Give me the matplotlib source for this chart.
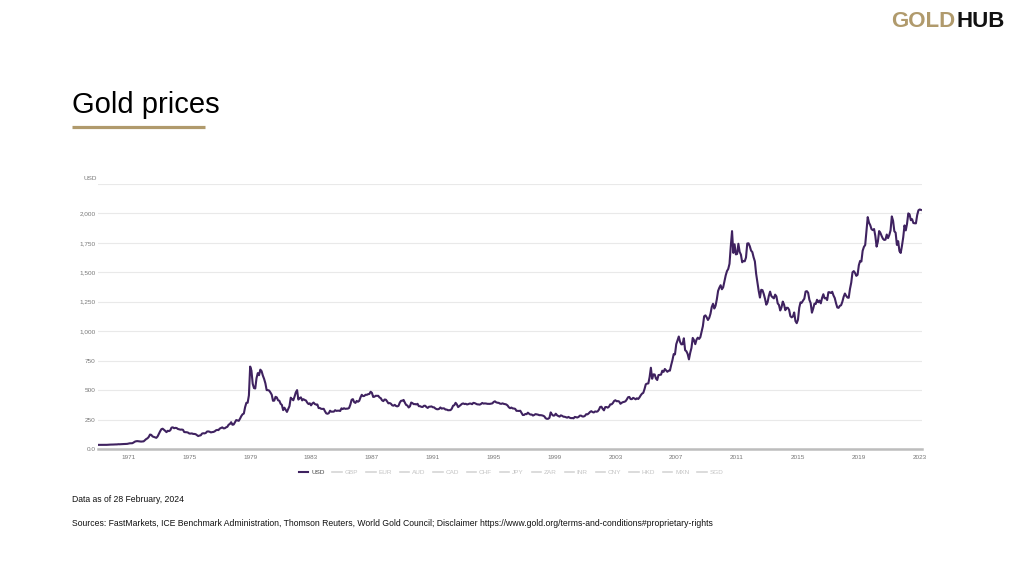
import numpy as np
import matplotlib
matplotlib.use("Agg")
import matplotlib.pyplot as plt
from matplotlib.lines import Line2D

plt.rcParams['font.family'] = ['Liberation Sans', 'DejaVu Sans']

# monthly gold price, USD/oz, Jan 1970 .. Feb 2024
start_year = 1970
usd = [
    35, 35, 35.1, 35.6, 35.9, 35.4, 35.3, 35.4, 36.2, 37.5, 37.4, 37.4,            # 1970
    37.9, 38.7, 38.9, 39.0, 40.5, 40.1, 41.0, 42.7, 42.0, 42.5, 42.9, 43.5,        # 1971
    45.8, 48.3, 48.3, 49.0, 54.6, 62.1, 65.7, 67.0, 65.5, 64.9, 62.9, 63.9,        # 1972
    65.1, 74.2, 84.4, 90.5, 102, 122.5, 120.2, 106.8, 103, 100.1, 94.8, 106.7,     # 1973
    129, 150.2, 168.4, 172.2, 163.3, 154.1, 143, 154.6, 151.8, 158.8, 181.7, 183.9,  # 1974
    176.3, 179.6, 178, 170, 167.2, 164.2, 165.1, 163.1, 144, 142.7, 142.4, 139.3,  # 1975
    131.5, 131, 132.4, 128.1, 127.8, 125.7, 117.7, 109.9, 114.1, 116, 130.6, 133.8,  # 1976
    132.3, 136.3, 148.3, 149.2, 146.6, 140.8, 143.4, 144.9, 149.5, 158.6, 162.1, 160.5,  # 1977
    173.2, 178.2, 183.7, 175.1, 176.3, 183.9, 188.5, 206.1, 212.4, 227.4, 206, 207.8,  # 1978
    227.3, 245.7, 242.1, 239.2, 257.6, 279.1, 294.7, 300.8, 355.1, 391.7, 392.5, 455.1,  # 1979
    700, 665.3, 553.6, 517.4, 513.8, 600.7, 644.3, 626.5, 673.6, 661.2, 623.5, 594.9,  # 1980
    557.5, 500, 499.8, 495.8, 479.7, 460.8, 409.3, 410.9, 443.2, 437.8, 413.4, 410.1,  # 1981
    384, 374.2, 330.1, 350.7, 333.3, 314.9, 338.6, 364.4, 435.8, 422.9, 413.8, 444.3,  # 1982
    481.1, 500, 419.7, 432.8, 438.4, 412.8, 422.9, 416.2, 411.8, 393.6, 381.7, 388,  # 1983
    370.7, 386, 394.2, 381.6, 377.7, 377.7, 347.4, 347.7, 341.1, 340.2, 341.2, 319.9,  # 1984
    302.7, 299.1, 304.1, 325.3, 316.6, 316.8, 317.4, 329.6, 323.6, 325.2, 325.3, 322.8,  # 1985
    345.4, 339, 346.2, 340.9, 342.4, 342.9, 348.4, 376.6, 418, 423.3, 398.2, 391.3,  # 1986
    408.3, 401.1, 408.9, 438.4, 460.2, 449, 450.6, 460.7, 459.9, 465.5, 467.2, 486.3,  # 1987
    476.7, 442.1, 443.6, 452.1, 451.3, 451.6, 437.6, 431.4, 413.3, 406.6, 420.1, 418.7,  # 1988
    404.2, 387.8, 390.2, 384.4, 371.1, 367.6, 375, 365.4, 361.8, 366.7, 394.1, 409.4,  # 1989
    410.1, 416.8, 393.1, 374.3, 369, 352.3, 362.5, 394.7, 389.2, 380.5, 381.8, 378.2,  # 1990
    383.6, 363.8, 363.5, 358, 356.8, 366.7, 367.7, 356.2, 348.7, 358.7, 359.6, 361.8,  # 1991
    354.5, 353.9, 344.3, 338.6, 337.2, 340.8, 352.7, 342.9, 345.4, 344.4, 335, 334.7,  # 1992
    329, 329.3, 330.1, 342.2, 367.2, 371.9, 392, 378.6, 355.6, 364.2, 373.8, 383.3,  # 1993
    387, 381.6, 384, 378.1, 381.2, 385.6, 385.5, 380.4, 391.6, 389.8, 384.4, 379.3,  # 1994
    378.6, 376.6, 382.4, 391, 385.6, 387.1, 386.3, 383.6, 383.1, 383.1, 385.3, 387.5,  # 1995
    399.5, 404.8, 396.2, 392.9, 391.9, 385.3, 383.5, 387.5, 383.1, 381.1, 377.9, 369.3,  # 1996
    354.1, 346.6, 351.8, 344.6, 343.8, 340.8, 324.1, 324, 322.8, 324.9, 306, 288.7,  # 1997
    289.1, 297.5, 295.9, 308.4, 299.1, 292.3, 292.8, 284.1, 289, 296.1, 294.1, 291.6,  # 1998
    287.1, 287.3, 285.9, 282.6, 276.8, 261.3, 256.1, 256.7, 264.7, 310.7, 293.2, 283.1,  # 1999
    284.6, 299.9, 286.4, 280, 275.1, 285.7, 281.6, 274.5, 273.7, 270, 266, 272.5,  # 2000
    265.5, 261.9, 263, 260.5, 272.4, 270.2, 267.5, 272.4, 283.4, 283.1, 276.2, 275.9,  # 2001
    281.7, 295.5, 294, 302.7, 314.5, 321.2, 313.3, 310.3, 319.2, 316.6, 319.2, 333.4,  # 2002
    356.9, 359, 340.6, 328.2, 355.7, 356.4, 351, 359.8, 378.9, 378.9, 389.9, 407.6,  # 2003
    414, 405.3, 406.7, 403, 383.8, 392.4, 398.1, 400.5, 405.3, 420.5, 439.4, 442.1,  # 2004
    424, 423.4, 434.2, 428.9, 421.9, 430.7, 424.5, 437.9, 456, 469.9, 476.7, 509.4,  # 2005
    549.9, 555, 557.1, 610.6, 690, 596.2, 633.7, 632.6, 598.2, 585.8, 627.8, 629.8,  # 2006
    631.2, 664.8, 654.9, 679.4, 666.9, 655.5, 665.3, 665.4, 712.7, 754.6, 806.3, 803.2,  # 2007
    889.6, 922.3, 955, 909.7, 888.7, 889.5, 939.8, 839, 829.9, 806.6, 760.9, 816.1,  # 2008
    858.7, 943.2, 924.3, 890.2, 928.6, 945.7, 934.2, 949.5, 996.6, 1043.2, 1127, 1134.7,  # 2009
    1117.9, 1095.4, 1113.3, 1148.7, 1205.4, 1232.9, 1192.9, 1215.8, 1270.9, 1342, 1369.9, 1390.6,  # 2010
    1356.4, 1372.7, 1424, 1473.8, 1510.4, 1528.7, 1572.8, 1720, 1850, 1665.2, 1738, 1652.3,  # 2011
    1656.1, 1742.6, 1673.8, 1650.1, 1585.5, 1596.7, 1593.9, 1626, 1744.8, 1746.6, 1721.6, 1684.8,  # 2012
    1671.9, 1627.6, 1593.1, 1487.9, 1414, 1343.4, 1285.5, 1351.7, 1348.6, 1316.6, 1275.8, 1225.4,  # 2013
    1244.3, 1299.6, 1336.1, 1299, 1287.5, 1279.1, 1310.6, 1295.1, 1236.6, 1222.5, 1176.3, 1202.3,  # 2014
    1251.8, 1227.1, 1178.6, 1198.9, 1198.6, 1181.5, 1128.3, 1117.9, 1124.8, 1159.3, 1086.4, 1068.3,  # 2015
    1097.9, 1199.5, 1245.1, 1242.3, 1260.9, 1276.4, 1336.7, 1340.2, 1326.6, 1266.6, 1238.4, 1157.4,  # 2016
    1192.1, 1234.2, 1231.1, 1266.9, 1246, 1260.3, 1236.8, 1283, 1314.1, 1279.5, 1281.9, 1264.5,  # 2017
    1331.3, 1330.7, 1324.7, 1334.8, 1303.5, 1281.6, 1237.7, 1201.7, 1198.4, 1215.4, 1220.7, 1250.4,  # 2018
    1291.8, 1320.1, 1300.9, 1285.9, 1283.7, 1359, 1412.9, 1500.4, 1510.6, 1494.8, 1470, 1479.1,  # 2019
    1560.7, 1597.1, 1591.9, 1683.2, 1715.9, 1732.2, 1846.5, 1968.6, 1921.9, 1900.3, 1866.3, 1858.4,  # 2020
    1867.6, 1808.2, 1718.2, 1760, 1850.3, 1834.6, 1807.8, 1785.3, 1775.1, 1777.4, 1821, 1790.4,  # 2021
    1816, 1856.3, 1975, 1937.4, 1848.5, 1836.6, 1732.7, 1764.6, 1680.8, 1664.5, 1725.1, 1797.6,  # 2022
    1898.4, 1855.9, 1912.7, 2000.4, 1991.8, 1942.9, 1951, 1918.7, 1916.6, 1916, 1985.8, 2026.8,  # 2023
    2033.8, 2030,  # 2024
]

year_labels = ['1971', '1975', '1979', '1983', '1987', '1991', '1995', '1999',
               '2003', '2007', '2011', '2015', '2019', '2023']
y_ticks = [0, 250, 500, 750, 1000, 1250, 1500, 1750, 2000]
y_labels = ['0.0', '250', '500', '750', '1,000', '1,250', '1,500', '1,750', '2,000']
currencies = ['USD', 'GBP', 'EUR', 'AUD', 'CAD', 'CHF', 'JPY', 'ZAR', 'INR',
              'CNY', 'HKD', 'MXN', 'SGD']

GOLD = '#b09a6c'
PURPLE = '#3f2260'

t = start_year + np.arange(len(usd)) / 12

fig = plt.figure(figsize=(10.24, 5.76), dpi=100)
ax = fig.add_axes([98 / 1024, 1 - 449 / 576, (922 - 98) / 1024, (449 - 184) / 576])

line, = ax.plot(t, usd, color=PURPLE, lw=1.5, solid_joinstyle='round')

ax.set_xlim(1970.0, 2024.15)
ax.set_ylim(0, 2250)
# source chart puts each year label one year to the right
ax.set_xticks([int(y) + 1 for y in year_labels])
ax.set_xticklabels(year_labels)
ax.set_yticks(y_ticks + [2250])
ax.set_yticklabels(y_labels + [''])
ax.tick_params(length=0, labelsize=4.6, labelcolor='#777777')
ax.tick_params(axis='y', pad=1.5)
ax.tick_params(axis='x', pad=4)
ax.grid(axis='y', color='#e9e9e9', lw=0.8)
ax.set_axisbelow(True)
for s in ['top', 'right', 'left']:
    ax.spines[s].set_visible(False)
ax.spines['bottom'].set_color('#bdbdbd')
ax.spines['bottom'].set_linewidth(1.8)

fig.text(96.5 / 1024, 1 - 178 / 576, 'USD', ha='right', va='center', fontsize=4.6, color='#777777')

# legend
handles = [Line2D([], [], color=PURPLE, lw=1.5)]
handles += [Line2D([], [], color='#d6d6d6', lw=1.2) for c in currencies[1:]]
leg = fig.legend(handles, currencies, loc='center', bbox_to_anchor=(511 / 1024, 1 - 472 / 576),
                 ncol=len(currencies), frameon=False, fontsize=4.6, handlelength=1.5,
                 handletextpad=0.4, columnspacing=1.25)
for i, txt in enumerate(leg.get_texts()):
    txt.set_color('#444444' if i == 0 else '#c4c4c4')

# header
fig.text(72 / 1024, 1 - 113 / 576, 'Gold prices', fontsize=21, color='black', va='baseline')
fig.add_artist(Line2D([72 / 1024, 205 / 1024], [1 - 127 / 576] * 2, color=GOLD, lw=2.3,
                      solid_capstyle='butt'))
fig.text(955 / 1024, 1 - 27 / 576, 'GOLD', fontsize=16, color=GOLD, fontweight='bold',
         va='baseline', ha='right')
fig.text(957 / 1024, 1 - 27 / 576, 'HUB', fontsize=16, color='#111111', fontweight='bold',
         va='baseline', ha='left')

# footer
fig.text(72 / 1024, 1 - 499 / 576, 'Data as of 28 February, 2024', fontsize=6.2, color='#111111', va='center')
fig.text(72 / 1024, 1 - 523 / 576,
         'Sources: FastMarkets, ICE Benchmark Administration, Thomson Reuters, World Gold Council; '
         'Disclaimer https://www.gold.org/terms-and-conditions#proprietary-rights',
         fontsize=6.2, color='#111111', va='center')

fig.savefig('out.png', dpi=100, facecolor='white')
